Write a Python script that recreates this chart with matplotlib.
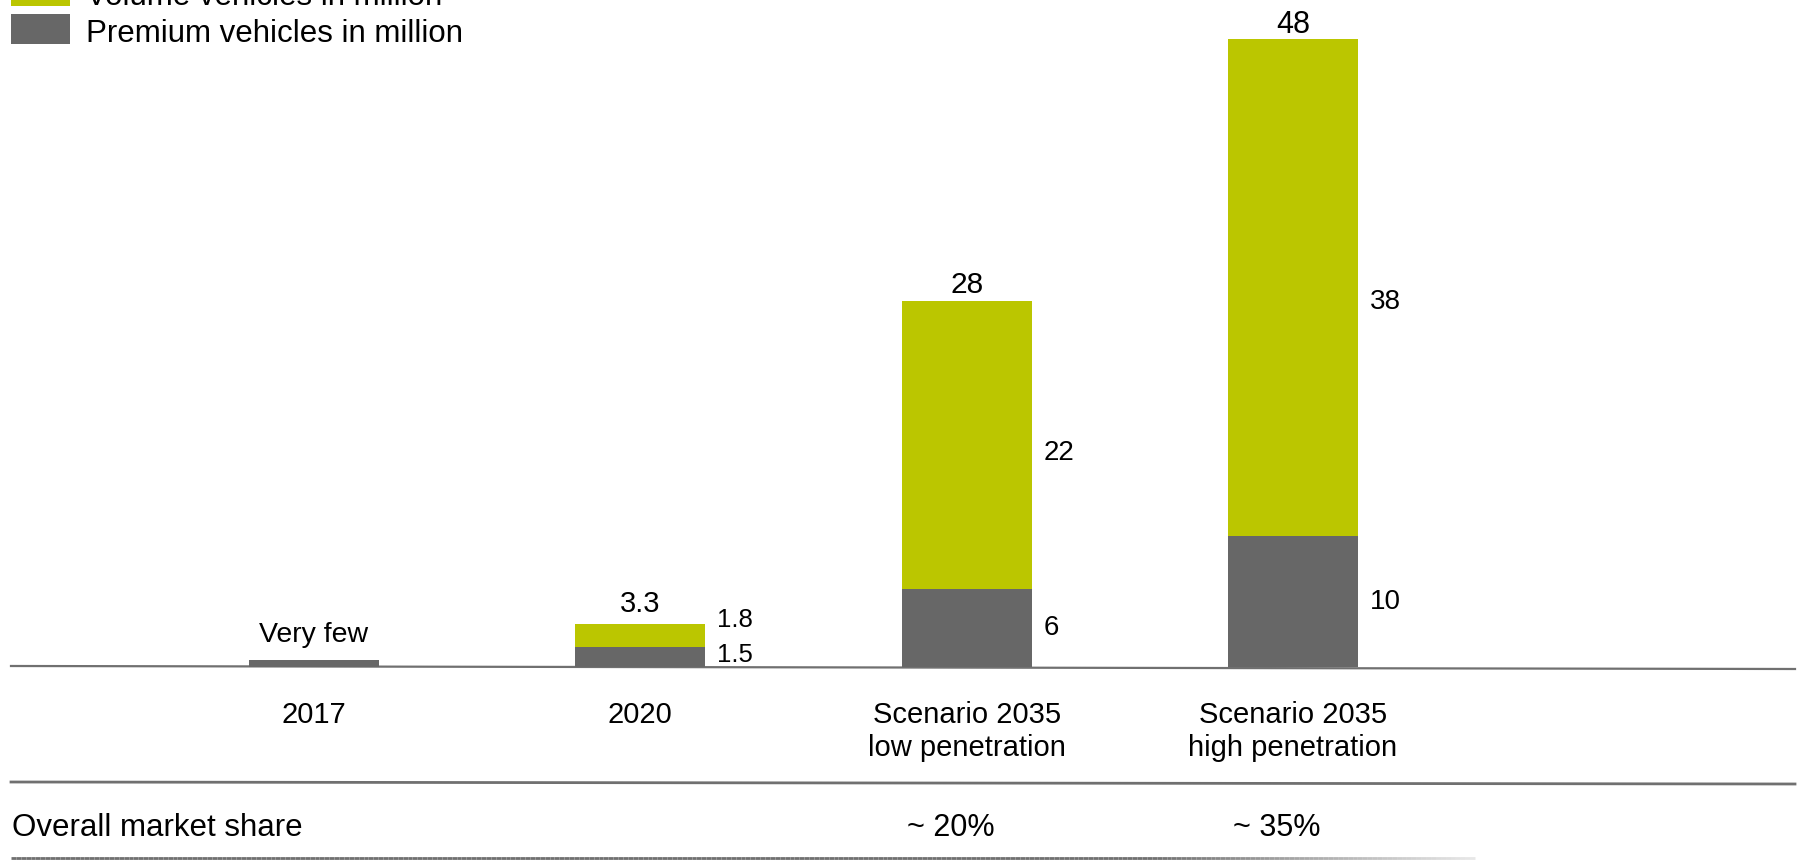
import matplotlib
matplotlib.use("Agg")

import numpy as np
import matplotlib.pyplot as plt
from matplotlib.patches import Rectangle
from matplotlib.collections import LineCollection

plt.rcParams["font.family"] = ["Liberation Sans", "DejaVu Sans"]

# ------------------------------------------------------------
# Data
# ------------------------------------------------------------
categories = ["2017", "2020", "Scenario 2035\nlow penetration", "Scenario 2035\nhigh penetration"]
premium = [0.5, 1.5, 6, 10]
volume = [0.0, 1.8, 22, 38]
total_labels = ["Very few", "3.3", "28", "48"]
premium_labels = [None, "1.5", "6", "10"]
volume_labels = [None, "1.8", "22", "38"]
market_share = [None, None, "~ 20%", "~ 35%"]
series_names = ["Volume vehicles in million", "Premium vehicles in million"]

GREEN = "#bbc600"
GRAY = "#676767"
LINE = "#707070"

W, H = 1803, 860
fig = plt.figure(figsize=(W / 100, H / 100), dpi=100)

# baseline at pixel row 667, top of 48 at row 39
base_px, top_px = 667, 39
ax = fig.add_axes([0, (H - base_px) / H, 1, (base_px - top_px) / H])
ax.set_ylim(0, 48)
spacing = 326.3
first = 314
ax.set_xlim(-first / spacing, (W - first) / spacing)
ax.axis("off")

px_per_unit = (base_px - top_px) / 48.0
x0 = ax.get_xlim()[0]


def py(pixel):
    """Pixel row (from top) -> data y."""
    return (base_px - pixel) / px_per_unit


def px(pixel):
    """Pixel column -> data x."""
    return x0 + pixel / spacing


x = np.arange(len(categories))
width = 130 / spacing

# baseline
ax.plot([px(11), px(1795)], [py(666), py(669)], color=LINE, lw=1.6,
        clip_on=False, zorder=1)

ax.bar(x, premium, width=width, color=GRAY, zorder=2, linewidth=0)
ax.bar(x, volume, width=width, bottom=premium, color=GREEN, zorder=2, linewidth=0)

# totals above the bars
totals = [p + v for p, v in zip(premium, volume)]
total_sizes = [20.5, 21, 21.5, 22]
total_gaps = [18, 12, 8, 6]
for i, lab in enumerate(total_labels):
    ax.text(x[i], totals[i] + total_gaps[i] / px_per_unit, lab, ha="center",
            va="baseline", fontsize=total_sizes[i], color="black")

# segment values to the right of the bars
side_x = x + width / 2 + 12 / spacing
for i in range(len(categories)):
    if premium_labels[i] is None:
        continue
    if i == 1:
        size = 18.5
        y_prem = premium[i] / 2 + 0.2
        y_vol = totals[i] + 0.3
    else:
        size = 20
        y_prem = premium[i] / 2
        y_vol = premium[i] + volume[i] * 0.47
    ax.text(side_x[i], y_prem, premium_labels[i], ha="left", va="center", fontsize=size)
    ax.text(side_x[i], y_vol, volume_labels[i], ha="left", va="center", fontsize=size)

# category labels
for i, lab in enumerate(categories):
    ax.text(x[i], py(701), lab, ha="center", va="top", fontsize=21, linespacing=1.25,
            clip_on=False)

# market share row
ax.plot([px(11), px(1795)], [py(782), py(784)], color=LINE, lw=2, clip_on=False)
ax.text(px(12), py(828), "Overall market share", ha="left", va="center", fontsize=22.5)
for i, share in enumerate(market_share):
    if share is None:
        continue
    ax.text(x[i] - width / 2 + 5 / spacing, py(828), share, ha="left", va="center",
            fontsize=22)

# bottom rule fading out to the right
xs = np.linspace(px(11), px(1475), 300)
segs = [[(xs[k], py(858)), (xs[k + 1], py(858))] for k in range(len(xs) - 1)]
fade = np.clip((xs[:-1] - px(1150)) / (325 / spacing), 0, 1)
cols = [(0.44, 0.44, 0.44, 1 - 0.85 * f) for f in fade]
ax.add_collection(LineCollection(segs, colors=cols, linewidths=2, clip_on=False))

# legend drawn by hand in the top-left corner
lg = fig.add_axes([0, 0, 1, 1])
lg.set_xlim(0, W)
lg.set_ylim(H, 0)
lg.axis("off")
lg.patch.set_alpha(0)
lg.add_patch(Rectangle((11, -24), 59, 30, color=GREEN, linewidth=0))
lg.add_patch(Rectangle((11, 14), 59, 30, color=GRAY, linewidth=0))
lg.text(86, 5, series_names[0], ha="left", va="baseline", fontsize=22.5)
lg.text(86, 42, series_names[1], ha="left", va="baseline", fontsize=22.5)

fig.savefig("out.png", dpi=100)
